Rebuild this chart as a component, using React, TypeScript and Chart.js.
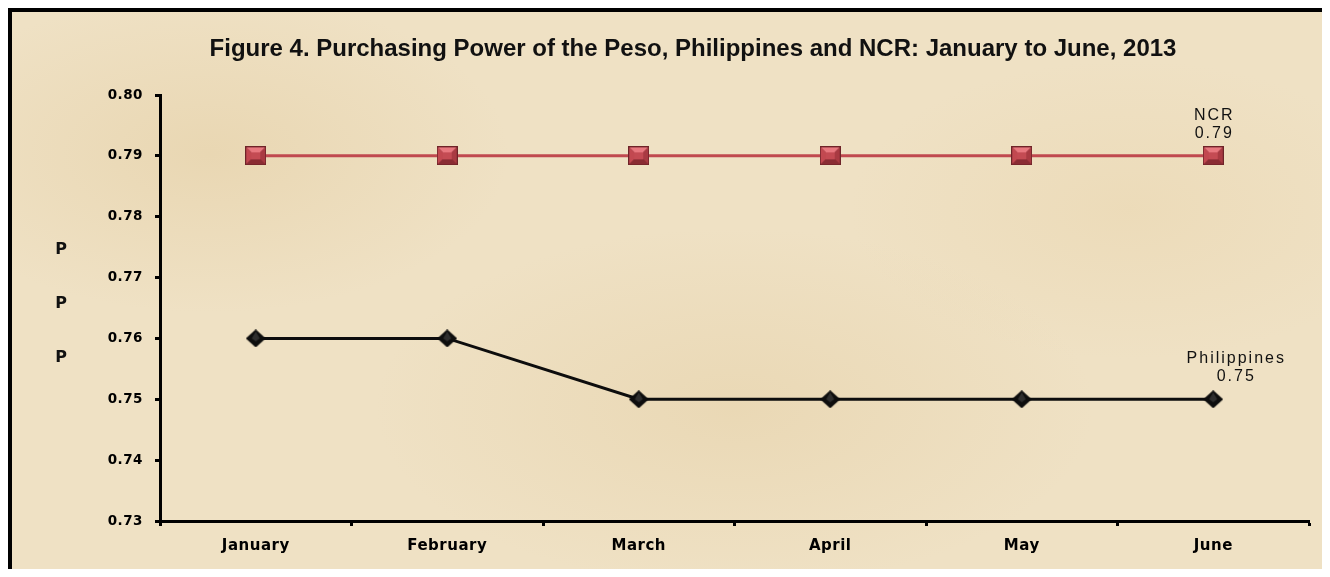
import React, { useEffect, useRef } from "react";
import { Chart, registerables } from "chart.js";

Chart.register(...registerables);

const months = ["January", "February", "March", "April", "May", "June"];
const philippines = [0.76, 0.76, 0.75, 0.75, 0.75, 0.75];
const ncr = [0.79, 0.79, 0.79, 0.79, 0.79, 0.79];
const yMin = 0.73;
const yMax = 0.8;
const yStep = 0.01;
const titleText =
  "Figure 4. Purchasing Power of the Peso, Philippines and NCR: January to June, 2013";
const yAxisLetters = ["P", "P", "P"];

function makeSquareMarker(): HTMLCanvasElement {
  const c = document.createElement("canvas");
  const w = 21;
  const h = 19;
  c.width = w;
  c.height = h;
  const g = c.getContext("2d")!;
  g.fillStyle = "#6e2328";
  g.fillRect(0, 0, w, h);
  const x0 = 1, y0 = 1, x1 = w - 1, y1 = h - 1;
  const ix0 = 6, iy0 = 6, ix1 = w - 6, iy1 = h - 6;
  const facet = (pts: number[][], col: string) => {
    g.beginPath();
    g.moveTo(pts[0][0], pts[0][1]);
    for (let i = 1; i < pts.length; i++) g.lineTo(pts[i][0], pts[i][1]);
    g.closePath();
    g.fillStyle = col;
    g.fill();
  };
  facet([[x0, y0], [x1, y0], [ix1, iy0], [ix0, iy0]], "#e8777e");
  facet([[x0, y0], [ix0, iy0], [ix0, iy1], [x0, y1]], "#c24850");
  facet([[x1, y0], [x1, y1], [ix1, iy1], [ix1, iy0]], "#a93a42");
  facet([[x0, y1], [ix0, iy1], [ix1, iy1], [x1, y1]], "#8a2c33");
  g.fillStyle = "#c44b53";
  g.fillRect(ix0, iy0, ix1 - ix0, iy1 - iy0);
  return c;
}

function makeDiamondMarker(): HTMLCanvasElement {
  const c = document.createElement("canvas");
  const w = 20;
  const h = 18;
  c.width = w;
  c.height = h;
  const g = c.getContext("2d")!;
  g.beginPath();
  g.moveTo(w / 2, 0);
  g.lineTo(w, h / 2);
  g.lineTo(w / 2, h);
  g.lineTo(0, h / 2);
  g.closePath();
  g.fillStyle = "#0d0d0d";
  g.fill();
  g.beginPath();
  g.moveTo(w / 2, 2);
  g.lineTo(w / 2 + 4, h / 2);
  g.lineTo(w / 2, h / 2 + 3);
  g.lineTo(w / 2 - 4, h / 2);
  g.closePath();
  g.fillStyle = "#2e2e2e";
  g.fill();
  return c;
}

const decorPlugin = {
  id: "decor",
  beforeDraw(chart: any) {
    chart.ctx.letterSpacing = "0.5px";
  },
  afterDraw(chart: any) {
    const ctx = chart.ctx as CanvasRenderingContext2D;
    ctx.save();
    // title
    (ctx as any).letterSpacing = "0px";
    ctx.fillStyle = "#111";
    ctx.font = "bold 24px 'Liberation Sans', Arial, sans-serif";
    ctx.textAlign = "center";
    ctx.textBaseline = "alphabetic";
    ctx.fillText(titleText, 681, 44);
    // stacked axis letters
    ctx.font = "bold 16px 'DejaVu Sans', sans-serif";
    ctx.textBaseline = "middle";
    const ys = [238, 292, 346];
    yAxisLetters.forEach((t, i) => ctx.fillText(t, 49, ys[i]));
    // end labels
    (ctx as any).letterSpacing = "2px";
    ctx.font = "16px 'Liberation Sans', Arial, sans-serif";
    ctx.textBaseline = "alphabetic";
    chart.data.datasets.forEach((ds: any, i: number) => {
      const meta = chart.getDatasetMeta(i);
      const n = meta.data.length;
      const pt = meta.data[n - 1];
      const dx = ds.endLabelDx || 0;
      const v = ds.data[n - 1] as number;
      ctx.fillStyle = "#111";
      ctx.fillText(ds.label, pt.x + dx + 1, pt.y - 36);
      ctx.fillText(v.toFixed(2), pt.x + dx + 1, pt.y - 18);
    });
    ctx.restore();
    (ctx as any).letterSpacing = "0px";
  },
};

export default function App() {
  const ref = useRef<HTMLCanvasElement | null>(null);

  useEffect(() => {
    document.body.style.overflow = "hidden";
    const canvas = ref.current!;
    const sq = makeSquareMarker();
    const di = makeDiamondMarker();
    const chart = new Chart(canvas, {
      type: "line",
      data: {
        labels: months,
        datasets: [
          {
            label: "NCR",
            data: ncr,
            borderColor: "#c0494f",
            borderWidth: 3,
            pointStyle: sq as any,
            pointRadius: 10,
            tension: 0,
            endLabelDx: 0,
          } as any,
          {
            label: "Philippines",
            data: philippines,
            borderColor: "#0d0d0d",
            borderWidth: 3,
            pointStyle: di as any,
            pointRadius: 10,
            tension: 0,
            endLabelDx: 22,
          } as any,
        ],
      },
      options: {
        responsive: false,
        animation: false,
        events: [],
        layout: { padding: { top: 83, right: 17, bottom: 0, left: 0 } },
        plugins: {
          legend: { display: false },
          title: { display: false },
          tooltip: { enabled: false },
        },
        scales: {
          x: {
            offset: true,
            grid: {
              offset: true,
              drawOnChartArea: false,
              display: true,
              tickLength: 5,
              tickColor: "#000",
              tickWidth: 3,
              color: "#000",
            },
            border: { display: true, color: "#000", width: 3 },
            ticks: {
              color: "#000",
              padding: 11,
              font: { family: "'DejaVu Sans', sans-serif", size: 15, weight: "bold" },
            },
            afterFit(scale: any) {
              scale.height = 56;
            },
          },
          y: {
            min: yMin,
            max: yMax,
            grid: {
              drawOnChartArea: false,
              display: true,
              tickLength: 5,
              tickColor: "#000",
              tickWidth: 3,
              color: "#000",
            },
            border: { display: true, color: "#000", width: 3 },
            ticks: {
              stepSize: yStep,
              color: "#000",
              padding: 12,
              font: { family: "'DejaVu Sans', sans-serif", size: 13.5, weight: "bold" },
              callback: (v: any) => Number(v).toFixed(2),
            },
            afterFit(scale: any) {
              scale.width = 148;
            },
          },
        },
      },
      plugins: [decorPlugin],
    });
    return () => chart.destroy();
  }, []);

  return (
    <div
      style={{
        width: 1314,
        height: 565,
        borderTop: "4px solid #000",
        borderLeft: "4px solid #000",
        borderRight: "4px solid #000",
        marginBottom: -8,
        background:
          "radial-gradient(ellipse 300px 160px at 15% 25%, rgba(222,196,146,0.35), rgba(0,0,0,0)), radial-gradient(ellipse 360px 180px at 55% 70%, rgba(222,196,146,0.3), rgba(0,0,0,0)), radial-gradient(ellipse 280px 150px at 85% 35%, rgba(230,206,160,0.3), rgba(0,0,0,0)), #efe1c4",
      }}
    >
      <canvas ref={ref} width={1314} height={565} style={{ display: "block" }} />
    </div>
  );
}
